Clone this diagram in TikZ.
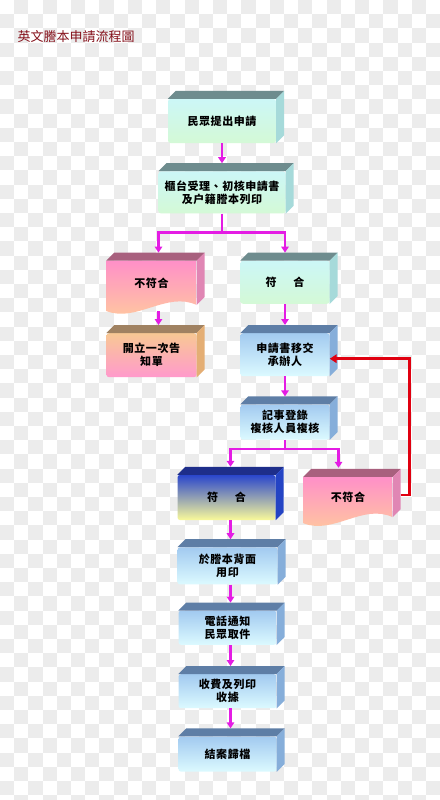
\documentclass[tikz,border=0pt]{standalone}
\usepackage{fontspec}
\newfontfamily\cjk[LetterSpace=5]{Noto Sans CJK TC}
\newfontfamily\cjktitle{Noto Sans CJK TC}
\usepackage{tikz}
\usetikzlibrary{positioning}
\usetikzlibrary{arrows.meta,backgrounds}

\definecolor{checker}{HTML}{ECECEC}
\definecolor{titlered}{HTML}{85101A}
\definecolor{tealA}{HTML}{CCF7F7}
\definecolor{tealB}{HTML}{D4F9D6}
\definecolor{tealtop}{HTML}{6E8C8E}
\definecolor{tealside}{HTML}{A6DADA}
\definecolor{skyA}{HTML}{A2CAF0}
\definecolor{skyB}{HTML}{DCFAFF}
\definecolor{skytop}{HTML}{5E7EA6}
\definecolor{skyside}{HTML}{86AEDA}
\definecolor{pinkA}{HTML}{FF90C8}
\definecolor{pinkB}{HTML}{FFCC9C}
\definecolor{pinktop}{HTML}{A8607E}
\definecolor{pinkside}{HTML}{E086B4}
\definecolor{peachA}{HTML}{F8C894}
\definecolor{peachB}{HTML}{FF9ACC}
\definecolor{peachtop}{HTML}{A08262}
\definecolor{peachside}{HTML}{E4AE74}
\definecolor{duoA}{HTML}{2A46CC}
\definecolor{duoM}{HTML}{D4D8EC}
\definecolor{duoB}{HTML}{FAFA9A}
\definecolor{duotop}{HTML}{1E2E8A}
\definecolor{duoside}{HTML}{2444C4}
\definecolor{flowmag}{HTML}{E41CE4}
\definecolor{backred}{HTML}{E00010}

\tikzset{
    box/.style={rectangle, rounded corners=2.5pt, inner sep=2pt, align=center,
        font=\cjk\bfseries\fontsize{11}{13}\selectfont},
    teal/.style={top color=tealA, bottom color=tealB},
    sky/.style={top color=skyA, bottom color=skyB},
    peach/.style={top color=peachA, bottom color=peachB},
    duo/.style={top color=duoA, middle color=duoM, bottom color=duoB},
    flow/.style={draw=flowmag, line width=2.4pt, -{Triangle[length=6pt,width=7.5pt]}},
    back/.style={draw=backred, line width=2.6pt, -{Triangle[length=7pt,width=8.5pt]}}
}

\begin{document}
\begin{tikzpicture}[x=1pt,y=-1pt]
    \useasboundingbox (0,0) rectangle (439,800);
    \begin{scope}[on background layer]
        \fill[white] (0,0) rectangle (439,800);
        \foreach \i in {0,...,30}
            \foreach \j in {0,...,28}
                \fill[checker] ({\i*14.2},{(2*\j+1-mod(\i,2))*14.2}) rectangle ++(14.2,14.2);
    \end{scope}
    \node[font=\cjktitle\fontsize{13}{13}\selectfont, text=titlered, inner sep=0pt] (title) at (76,37) {英文謄本申請流程圖};
    %Boxes
    \node[box, teal, minimum width=108pt, minimum height=44pt] (ms) at (222,121) {民眾提出申請};
    \node[box, teal, minimum width=127pt, minimum height=42pt, below=28pt of ms] (gt) {櫃台受理、初核申請書\\及户籍謄本列印};
    \node[box, minimum width=90pt, minimum height=44pt, below=47pt of gt, xshift=-70.5pt] (nf1) {不符合};
    \node[box, teal, minimum width=89pt, minimum height=43pt, below=47pt of gt, xshift=63pt] (ok1) {符\hspace{17pt}合};
    \node[box, peach, minimum width=90pt, minimum height=44pt, below=28pt of nf1] (gz) {開立一次告\\知單};
    \node[box, sky, minimum width=89pt, minimum height=43pt, below=29pt of ok1] (yj) {申請書移交\\承辦人};
    \node[box, sky, minimum width=89pt, minimum height=35pt, below=28pt of yj] (jl) {記事登錄\\複核人員複核};
    \node[box, duo, minimum width=98pt, minimum height=45pt, below=35pt of jl, xshift=-58.5pt] (ok2) {符\hspace{17pt}合};
    \node[box, minimum width=89pt, minimum height=40pt, below=37pt of jl, xshift=63pt] (nf2) {不符合};
    \node[box, sky, minimum width=100pt, minimum height=37pt, below=27pt of ok2, xshift=1pt] (yy) {於謄本背面\\用印};
    \node[box, sky, minimum width=98pt, minimum height=34pt, below=26pt of yy] (dh) {電話通知\\民眾取件};
    \node[box, sky, minimum width=98pt, minimum height=34pt, below=29pt of dh] (sf) {收費及列印\\收據};
    \node[box, sky, minimum width=98pt, minimum height=35pt, below=28pt of sf] (ja) {結案歸檔};
    %Faces
    \begin{scope}[on background layer]
        \foreach \n in {nf1,nf2}
            \shade[top color=pinkA, bottom color=pinkB] (\n.north west) -- ([yshift=-6pt]\n.south west)
                .. controls ([shift={(30pt,-18pt)}]\n.south west) and ([shift={(-30pt,14pt)}]\n.south east) .. (\n.south east)
                -- (\n.north east) -- cycle;
    \end{scope}
    \foreach \n/\tp/\sd in {ms/tealtop/tealside, gt/tealtop/tealside, nf1/pinktop/pinkside, ok1/tealtop/tealside,
            gz/peachtop/peachside, yj/skytop/skyside, jl/skytop/skyside, ok2/duotop/duoside, nf2/pinktop/pinkside,
            yy/skytop/skyside, dh/skytop/skyside, sf/skytop/skyside, ja/skytop/skyside} {
        \fill[\tp] (\n.north west) -- ([shift={(8pt,8pt)}]\n.north west) -- ([shift={(8pt,8pt)}]\n.north east) -- (\n.north east) -- cycle;
        \fill[\sd] (\n.north east) -- ([shift={(8pt,8pt)}]\n.north east) -- ([shift={(8pt,8pt)}]\n.south east) -- (\n.south east) -- cycle;
    }
    %Lines
    \draw[flow] (ms.south) -- ([yshift=8pt]gt.north);
    \draw[flow,-] (gt.south) -- ++(0,19) coordinate (s1);
    \draw[flow] (s1) -| ([shift={(7pt,8pt)}]nf1.north);
    \draw[flow] (s1) -| ([yshift=8pt]ok1.north);
    \draw[flow] ([xshift=7pt,yshift=-6pt]nf1.south) -- ([shift={(7pt,8pt)}]gz.north);
    \draw[flow] (ok1.south) -- ([yshift=8pt]yj.north);
    \draw[flow] (yj.south) -- ([yshift=8pt]jl.north);
    \draw[flow,-] (jl.south) -- ++(0,9) coordinate (s2);
    \draw[flow] (s2) -| ([shift={(4pt,8pt)}]ok2.north);
    \draw[flow] (s2) -| ([shift={(-9.5pt,9pt)}]nf2.north);
    \draw[flow] ([xshift=4pt]ok2.south) -- ([shift={(3pt,8pt)}]yy.north);
    \draw[flow] ([xshift=3pt]yy.south) -- ([shift={(3pt,8pt)}]dh.north);
    \draw[flow] ([xshift=3pt]dh.south) -- ([shift={(3pt,8pt)}]sf.north);
    \draw[flow] ([xshift=3pt]sf.south) -- ([shift={(3pt,8pt)}]ja.north);
    \draw[back] ([xshift=8pt,yshift=2pt]nf2.east) -- ++(9,0) |- ([yshift=-4pt]yj.east);
\end{tikzpicture}
\end{document}
